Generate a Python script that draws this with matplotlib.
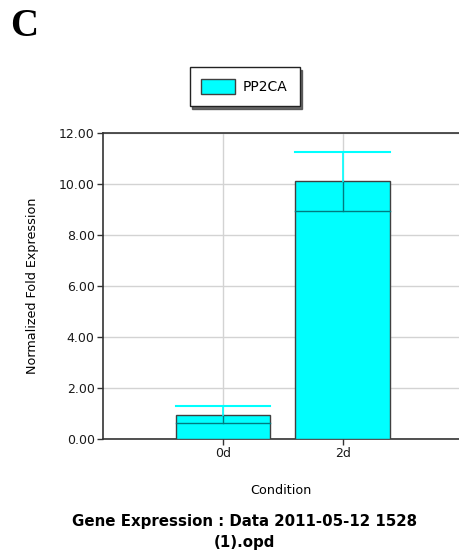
import numpy as np
import matplotlib
matplotlib.use('Agg')
import matplotlib.pyplot as plt
from matplotlib.patches import Patch

# data
conditions = ['0d', '2d']
expression = [0.94, 10.12]
err_low = [0.33, 1.18]
err_high = [0.34, 1.15]
series_name = 'PP2CA'
yticks = [0, 2, 4, 6, 8, 10, 12]

cyan = '#00FFFF'
teal = '#007B80'
edge = '#404040'

fig = plt.figure(figsize=(4.59, 5.56), dpi=100)
ax = fig.add_axes([0.2244, 0.2104, 0.7756, 0.5504])

x = np.arange(len(conditions))
w = 0.79
ax.bar(x, expression, width=w, color=cyan, edgecolor=edge, linewidth=1.0, zorder=3)

for xi, v, lo, hi in zip(x, expression, err_low, err_high):
    # lower line inside the bar, dark
    ax.plot([xi - w / 2, xi + w / 2], [v - lo, v - lo], color=teal, lw=1.0, zorder=4)
    ax.plot([xi, xi], [v - lo, v], color=teal, lw=1.0, zorder=4)
    # upper part, cyan
    ax.plot([xi, xi], [v, v + hi], color=cyan, lw=1.2, zorder=4)
    ax.plot([xi - w / 2, xi + w / 2], [v + hi, v + hi], color=cyan, lw=1.5, zorder=4)

ax.set_xlim(-1, 1.97)
ax.set_ylim(0, 12)
ax.set_xticks(x)
ax.set_xticklabels(conditions, fontsize=9, color='#1a1a1a')
ax.set_yticks(yticks)
ax.set_yticklabels(['%.2f' % t for t in yticks], fontsize=9, color='#1a1a1a')
ax.tick_params(axis='both', direction='out', length=4, width=1, color='#333333', pad=2)

ax.grid(True, color='#d3d3d3', lw=1, zorder=0)
ax.set_axisbelow(True)
for s in ['left', 'bottom', 'top']:
    ax.spines[s].set_color('#333333')
    ax.spines[s].set_linewidth(1.2)
ax.spines['right'].set_visible(False)

ax.set_ylabel('Normalized Fold Expression', fontsize=9.2, labelpad=14)
ax.set_xlabel('Condition', fontsize=9.2, labelpad=17)

handle = Patch(facecolor=cyan, edgecolor=edge, linewidth=1.0)
leg = ax.legend([handle], [series_name], loc='center', bbox_to_anchor=(0.533, 0.8444),
                bbox_transform=fig.transFigure, fontsize=10, frameon=True,
                fancybox=False, shadow={'color': '#444444', 'alpha': 0.8},
                edgecolor='#222222', handlelength=2.4, handleheight=1.35,
                borderpad=0.85, handletextpad=0.6)
leg.get_frame().set_linewidth(1.0)

fig.text(0.022, 0.953, 'C', fontsize=28, fontweight='bold', family='Liberation Serif',
         ha='left', va='center')
fig.text(0.532, 0.043, 'Gene Expression : Data 2011-05-12 1528\n(1).opd', fontsize=10.8,
         fontweight='bold', ha='center', va='center', linespacing=1.5)

fig.savefig('out.png', dpi=100)
